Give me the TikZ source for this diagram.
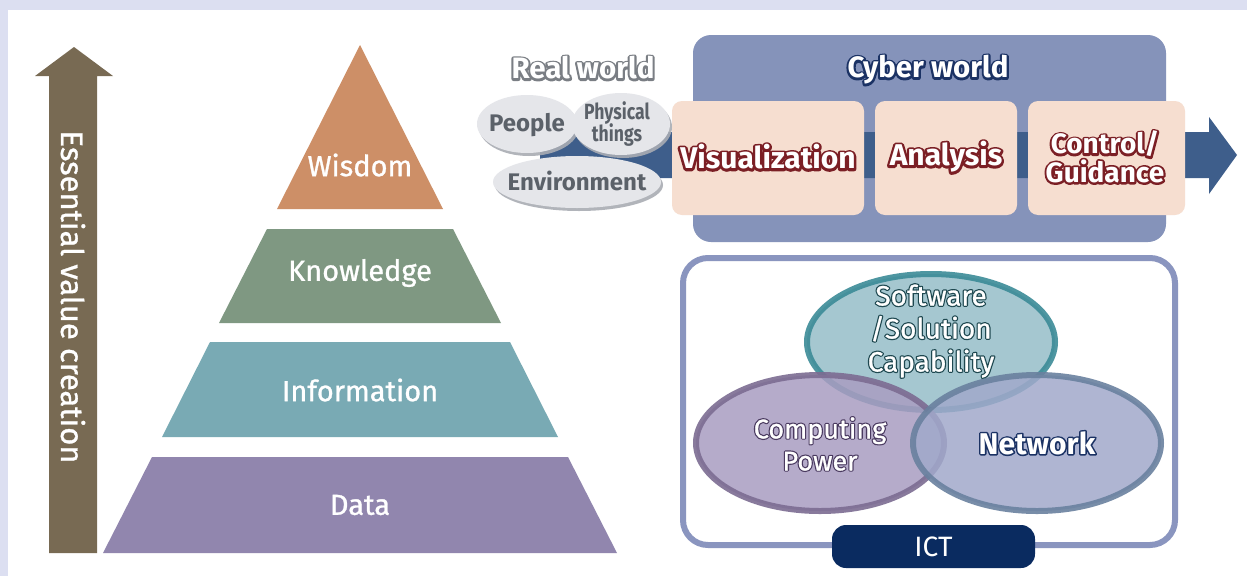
\documentclass[tikz,border=0pt]{standalone}
\usepackage{fontspec}
\setmainfont{Fira Sans}
\newfontfamily\condfont[FakeStretch=0.8]{Fira Sans}
\usetikzlibrary{shapes.geometric,shadows}
\definecolor{bgl}{HTML}{DCDFF1}
\definecolor{arrowc}{HTML}{786A53}
\definecolor{wisc}{HTML}{CD8F67}
\definecolor{knowc}{HTML}{7F9882}
\definecolor{infoc}{HTML}{79AAB4}
\definecolor{datac}{HTML}{9186AE}
\definecolor{cyberc}{HTML}{8593BA}
\definecolor{bandc}{HTML}{3E5E8B}
\definecolor{peachc}{HTML}{F6DED0}
\definecolor{ellc}{HTML}{E5E6EA}
\definecolor{elltext}{HTML}{5B6169}
\definecolor{shadc}{HTML}{A9ACB3}
\definecolor{framec}{HTML}{8A95BF}
\definecolor{navyc}{HTML}{0A2B60}
\definecolor{softf}{HTML}{96BEC8}
\definecolor{softd}{HTML}{3B8B97}
\definecolor{compf}{HTML}{A99DC1}
\definecolor{compd}{HTML}{7C6C92}
\definecolor{netf}{HTML}{A1A9CB}
\definecolor{netd}{HTML}{6A819F}
\definecolor{glowred}{HTML}{7B1F25}
\definecolor{glownavy}{HTML}{1B3264}
\definecolor{glowgrey}{HTML}{7A7E84}
\definecolor{glowteal}{HTML}{1E4850}
\definecolor{glowpurp}{HTML}{4A3A60}
% glow: one stroked copy of the text in the glow colour behind the white text
\newcommand\glow[3][14]{\leavevmode\special{pdf:literal direct 1 j 1 J}\rlap{\addfontfeatures{FakeBold=#1}\color{#2}#3}#3}
\begin{document}
\begin{tikzpicture}[x=1pt,y=-1pt,
  pyrlabel/.style={text=white,font=\fontsize{29}{32}\selectfont\addfontfeatures{FakeBold=1}},
  stagebox/.style={rectangle,rounded corners=10pt,fill=peachc,minimum height=114pt,inner sep=0pt},
  stagetext/.style={text=white,font=\bfseries\fontsize{30}{27}\selectfont,align=center},
  realell/.style={ellipse,fill=ellc,inner sep=0pt,drop shadow={shadow xshift=2pt,shadow yshift=-3pt,fill=shadc,opacity=0.9}},
  realtext/.style={text=elltext,font=\bfseries\fontsize{24}{22}\selectfont,align=center},
  venn/.style={ellipse,line width=6pt,inner sep=0pt,minimum width=248pt,minimum height=136pt,fill opacity=0.85,draw opacity=0.9},
  venntext/.style={text=white,align=center,font=\fontsize{28}{33}\selectfont\addfontfeatures{FakeBold=1}},
  heading/.style={text=white,font=\bfseries\fontsize{29.5}{30}\selectfont}
]
\useasboundingbox (0,0) rectangle (1247,576);
\fill[bgl] (0,0) rectangle (1247,576);
\fill[white] (8,10) rectangle (1247,576);

% essential value arrow
\fill[arrowc] (49,553) -- (49,76) -- (35,76) -- (74,47) -- (113,76) -- (97,76) -- (97,553) -- cycle;
\node[rotate=-90,text=white,font=\fontsize{31}{32}\selectfont\addfontfeatures{FakeBold=1}] (ev) at (73,297) {Essential value creation};

% pyramid
\fill[wisc] (360,45) -- (443,209) -- (277,209) -- cycle;
\fill[knowc] (267,229) -- (453,229) -- (501,323) -- (219,323) -- cycle;
\fill[infoc] (210,342) -- (510,342) -- (558,437) -- (162,437) -- cycle;
\fill[datac] (152,457) -- (568,457) -- (617,553) -- (103,553) -- cycle;
\node[pyrlabel] (wis) at (360,165) {Wisdom};
\node[pyrlabel] (know) at (360,273) {Knowledge};
\node[pyrlabel] (info) at (360,390) {Information};
\node[pyrlabel] (data) at (360,505) {Data};

% cyber world
\fill[cyberc,rounded corners=18pt] (693,35) rectangle (1166,242);
\node[heading] (cyber) at (928,70) {\glow{glownavy}{Cyber world}};
\fill[bandc] (540,132) -- (1209,132) -- (1209,117) -- (1237,155) -- (1209,194) -- (1209,178) -- (540,178) -- cycle;
\node[stagebox,minimum width=192pt] (vis) at (768,158) {};
\node[stagebox,minimum width=142pt] (ana) at (946,158) {};
\node[stagebox,minimum width=157pt] (ctl) at (1106.5,158) {};
\node[stagetext] (vist) at (768,157) {\glow[16]{glowred}{Visualization}};
\node[stagetext] (anat) at (946,157) {\glow[16]{glowred}{Analysis}};
\node[stagetext,font=\bfseries\fontsize{28}{28.5}\selectfont] (ctlt) at (1105,157) {\glow[15]{glowred}{Control/}\\\glow[15]{glowred}{Guidance}};

% real world
\node[heading] (real) at (583,68) {\glow{glowgrey}{Real world}};
\node[realell,minimum width=100pt,minimum height=58pt] (peo) at (527,124) {};
\node[realell,minimum width=98pt,minimum height=62pt] (phy) at (621,124) {};
\node[realell,minimum width=168pt,minimum height=52pt] (env) at (577,182) {};
\node[realtext] (peot) at (527,125) {People};
\node[realtext,font=\condfont\bfseries\fontsize{22}{22}\selectfont] (phyt) at (617,124) {Physical\\[-2pt]things};
\node[realtext] (envt) at (577,181) {Environment};

% ICT
\draw[framec,line width=6pt,rounded corners=25pt] (683,258) rectangle (1175,545);
\node[venn,fill=softf,draw=softd] (soft) at (931,342) {};
\node[venn,fill=compf,draw=compd] (comp) at (820,443) {};
\node[venn,fill=netf,draw=netd] (net) at (1037,443) {};
\node[venntext] (softt) at (931,331) {\glow[10]{glowteal}{Software}\\\glow[10]{glowteal}{/Solution}\\\glow[10]{glowteal}{Capability}};
\node[venntext,font=\fontsize{27}{32}\selectfont\addfontfeatures{FakeBold=1}] (compt) at (820,444) {\glow[10]{glowpurp}{Computing}\\\glow[10]{glowpurp}{Power}};
\node[venntext,font=\bfseries\fontsize{30}{32}\selectfont] (nett) at (1037,443) {\glow[10]{glownavy}{Network}};
\node[rectangle,rounded corners=14pt,fill=navyc,minimum width=203pt,minimum height=43pt,inner sep=0pt,text=white,font=\fontsize{28}{30}\selectfont] (ict) at (933.5,546.5) {ICT};
\end{tikzpicture}
\end{document}
